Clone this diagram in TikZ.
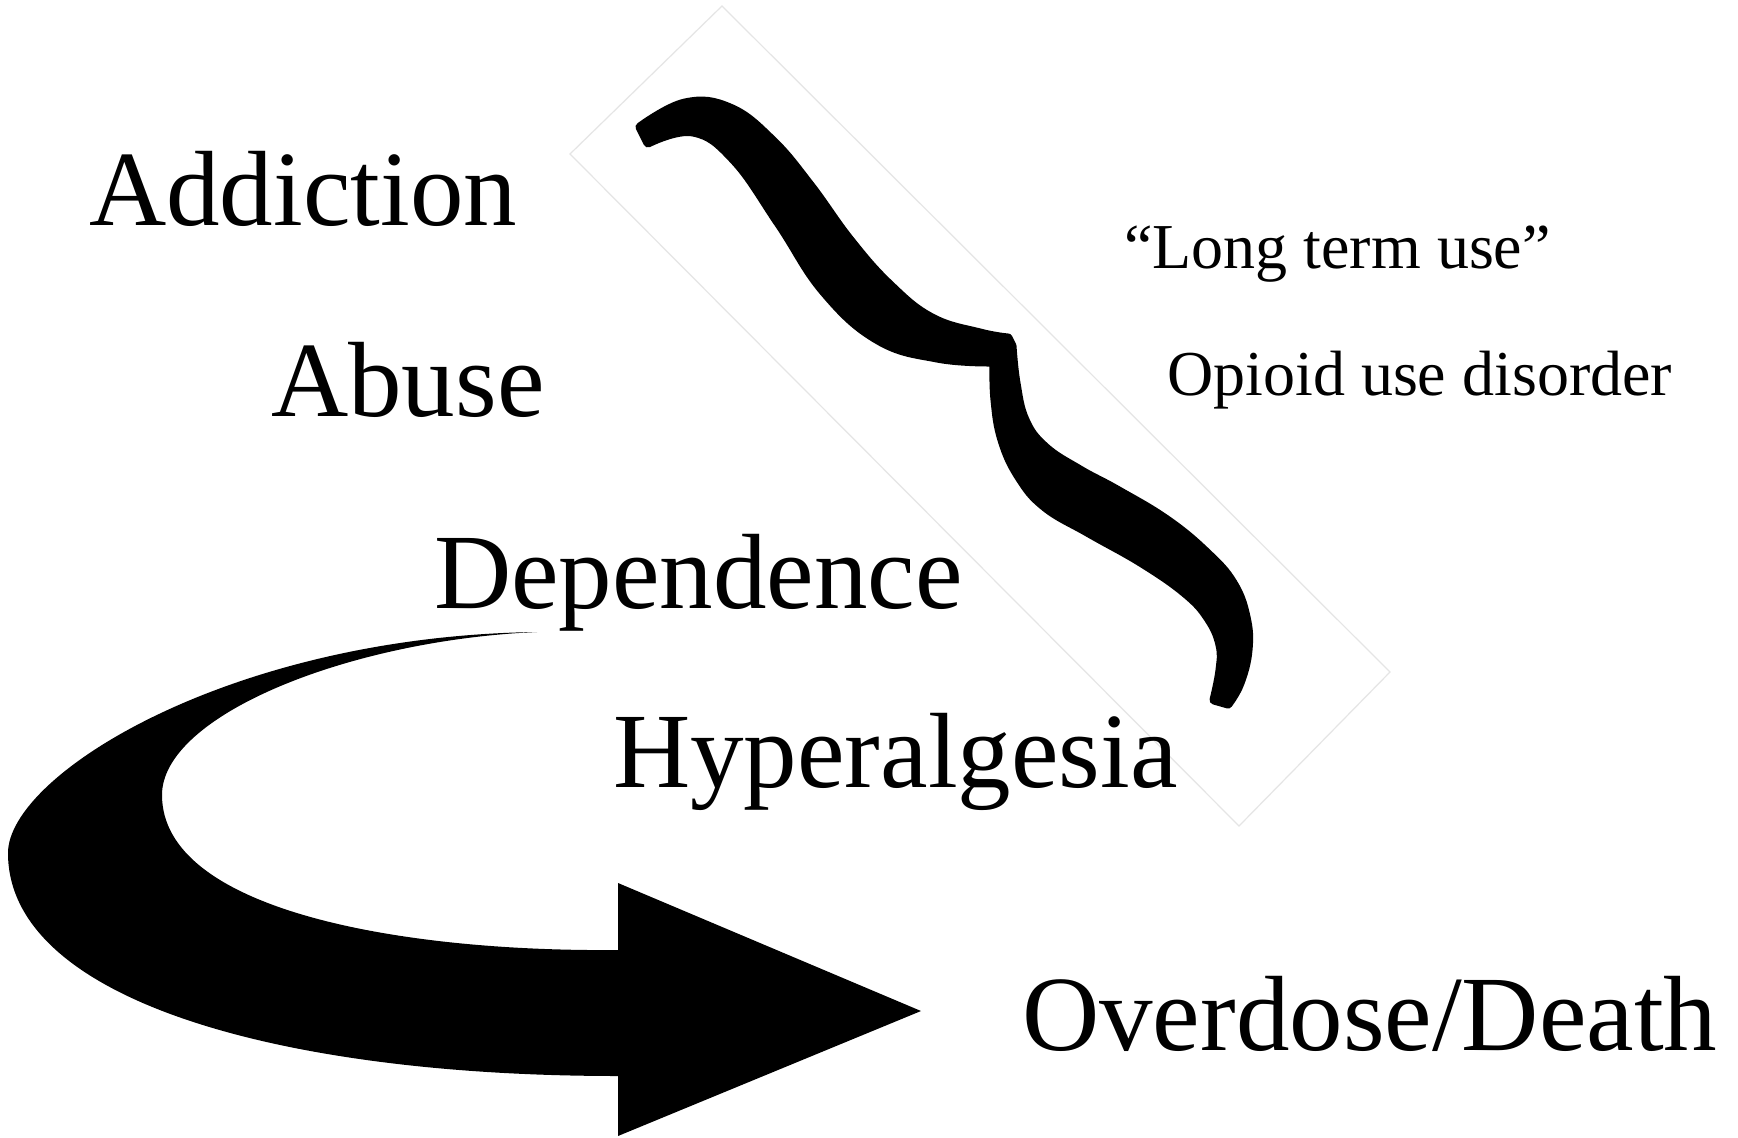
\documentclass[tikz,border=0pt]{standalone}
\usepackage{fontspec}
\setmainfont{Liberation Serif}
\begin{document}
\begin{tikzpicture}[x=1pt,y=-1pt,
  big/.style={anchor=base west, inner sep=0pt, font=\fontsize{107}{110}\selectfont},
  small/.style={anchor=base west, inner sep=0pt, font=\fontsize{64}{66}\selectfont},
  ink/.style={fill=black, draw=none},
  braceink/.style={fill=black, draw=black, line width=9pt, line join=round},
  frame/.style={draw=black!10, line width=1.2pt}]
\useasboundingbox (0,0) rectangle (1738,1138);
\fill[white] (0,0) rectangle (1738,1138);
% faint rotated frame
\draw[frame] (722,6) -- (1390,672) -- (1239,826) -- (570,154) -- cycle;
% brace
\path[braceink] plot[smooth, tension=0.7] coordinates {(640,127) (685,103) (730,108) (772,140) (810,185) (850,240) (890,285) (932,318) (980,333) (1008,338)}
  -- plot[smooth, tension=0.7] coordinates {(1012,346) (1016,383) (1025,420) (1045,447) (1080,470) (1117,490) (1167,520) (1207,553) (1233,583) (1246,617) (1248,650) (1240,683) (1228,704)}
  -- plot[smooth, tension=0.7] coordinates {(1214,700) (1220,670) (1220,645) (1208,618) (1185,593) (1142,563) (1089,533) (1045,507) (1019,477) (1002,440) (995,400) (994,364)}
  -- plot[smooth, tension=0.7] coordinates {(990,362) (937,358) (878,340) (824,292) (779,224) (734,160) (693,132) (648,143)}
  -- cycle;
% curved arrow
\fill[ink] (537,632) .. controls (230,636) and (8,775) .. (8,853)
  .. controls (8,1000) and (280,1076) .. (618,1076)
  -- (618,1136) -- (921,1011) -- (618,883) -- (618,950)
  .. controls (400,952) and (162,910) .. (162,795)
  .. controls (162,715) and (350,640) .. (537,632) -- cycle;
% labels
\node[big] (addiction) at (89,225) {Addiction};
\node[big] (abuse) at (271,416) {Abuse};
\node[big] (dependence) at (434,608) {Dependence};
\node[big] (hyper) at (613,787) {Hyperalgesia};
\node[big] (overdose) at (1022,1050) {Overdose/Death};
\node[small] (longterm) at (1124,268) {“Long term use”};
\node[small] (oud) at (1167,395) {Opioid use disorder};
\end{tikzpicture}
\end{document}
